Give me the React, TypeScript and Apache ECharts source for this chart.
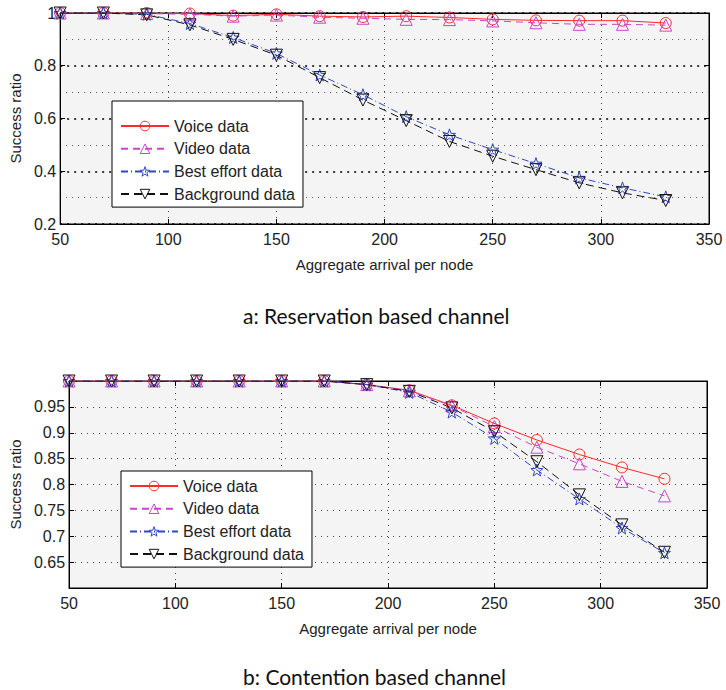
import React, { useEffect, useRef } from "react";
import * as echarts from "echarts";

const arrivals = [50, 70, 90, 110, 130, 150, 170, 190, 210, 230, 250, 270, 290, 310, 330];
const seriesNames = ["Voice data", "Video data", "Best effort data", "Background data"];

// a: Reservation based channel
const resVoice = [1, 1, 1, 0.998, 0.99, 0.995, 0.988, 0.985, 0.988, 0.983, 0.976, 0.972, 0.971, 0.971, 0.962];
const resVideo = [1, 1, 0.998, 0.995, 0.988, 0.992, 0.984, 0.98, 0.976, 0.975, 0.97, 0.963, 0.957, 0.957, 0.954];
const resBest = [1, 1, 0.995, 0.96, 0.907, 0.847, 0.765, 0.69, 0.607, 0.538, 0.482, 0.429, 0.375, 0.337, 0.303];
const resBack = [1, 1, 0.993, 0.955, 0.9, 0.84, 0.755, 0.67, 0.592, 0.513, 0.457, 0.406, 0.356, 0.318, 0.289];

// b: Contention based channel
const conVoice = [1, 1, 1, 1, 1, 1, 1, 0.993, 0.982, 0.953, 0.918, 0.886, 0.858, 0.833, 0.811];
const conVideo = [1, 1, 1, 1, 1, 1, 1, 0.993, 0.981, 0.952, 0.912, 0.872, 0.84, 0.806, 0.778];
const conBest = [1, 1, 1, 1, 1, 1, 1, 0.993, 0.978, 0.94, 0.889, 0.828, 0.772, 0.716, 0.668];
const conBack = [1, 1, 1, 1, 1, 1, 1, 0.993, 0.98, 0.948, 0.902, 0.844, 0.78, 0.722, 0.669];

const xTicks = { min: 50, max: 350, interval: 50 };
const captionA = "a: Reservation based channel";
const captionB = "b: Contention based channel";
const xTitle = "Aggregate arrival per node";
const yTitle = "Success ratio";

const STAR =
  "path://M0,-10 L2.35,-3.24 L9.51,-3.09 L3.8,1.24 L5.88,8.09 L0,4 L-5.88,8.09 L-3.8,1.24 L-9.51,-3.09 L-2.35,-3.24 Z";

const styles = [
  { color: "#ff2a2a", symbol: "circle", rotate: 0, type: "solid" as any, size: 11 },
  { color: "#cc44cc", symbol: "triangle", rotate: 0, type: [7, 5], size: 12 },
  { color: "#3048c0", symbol: STAR, rotate: 0, type: [7, 3, 1, 3], size: 12 },
  { color: "#111111", symbol: "triangle", rotate: 180, type: [8, 5], size: 12 },
];

const FONT = "Liberation Sans, Arial, sans-serif";

export default function App() {
  const ref = useRef<HTMLDivElement>(null);
  useEffect(() => {
    if (!ref.current) return;
    const chart = echarts.init(ref.current, undefined, { renderer: "svg" });

    const grids = [
      { left: 57, top: 13, width: 652, height: 211 },
      { left: 68, top: 381, width: 639, height: 207 },
    ];

    const mkX = (gi: number) => [
      {
        type: "value",
        gridIndex: gi,
        ...xTicks,
        name: xTitle,
        nameLocation: "middle",
        nameGap: 33,
        nameTextStyle: { fontFamily: FONT, fontSize: 15, color: "#222" },
        axisLine: { show: true, lineStyle: { color: "#000", width: 1 } },
        axisTick: { show: true, inside: true, length: 5, lineStyle: { color: "#000" } },
        axisLabel: { fontFamily: FONT, fontSize: 16, color: "#222", margin: 7 },
        splitLine: { show: true, lineStyle: { color: "#444", type: [1, 5], width: 1 } },
      },
      {
        type: "value",
        gridIndex: gi,
        position: "top",
        ...xTicks,
        axisLine: { show: true, lineStyle: { color: "#000", width: 1 } },
        axisTick: { show: true, inside: true, length: 5, lineStyle: { color: "#000" } },
        axisLabel: { show: false },
        splitLine: { show: false },
      },
    ];

    const yA = [
      {
        type: "value",
        gridIndex: 0,
        min: 0.2,
        max: 1,
        interval: 0.2,
        name: yTitle,
        nameLocation: "middle",
        nameGap: 37,
        nameRotate: 90,
        nameTextStyle: { fontFamily: FONT, fontSize: 15, color: "#222" },
        axisLine: { show: true, lineStyle: { color: "#000" } },
        axisTick: { show: true, inside: true, length: 5, lineStyle: { color: "#000" } },
        axisLabel: { fontFamily: FONT, fontSize: 16, color: "#222", margin: 4, formatter: (v: number) => String(+v.toFixed(2)) },
        splitLine: { show: true, lineStyle: { color: "#000", type: [2, 5], width: 1.6 } },
        minorTick: { show: false, splitNumber: 2 },
        minorSplitLine: { show: true, lineStyle: { color: "#555", type: [1, 5], width: 1 } },
      },
      {
        type: "value",
        gridIndex: 0,
        position: "right",
        min: 0.2,
        max: 1,
        interval: 0.2,
        axisLine: { show: true, lineStyle: { color: "#000" } },
        axisTick: { show: true, inside: true, length: 5, lineStyle: { color: "#000" } },
        axisLabel: { show: false },
        splitLine: { show: false },
      },
    ];

    const yB = [
      {
        type: "value",
        gridIndex: 1,
        min: 0.6,
        max: 1,
        interval: 0.05,
        name: yTitle,
        nameLocation: "middle",
        nameGap: 46,
        nameRotate: 90,
        nameTextStyle: { fontFamily: FONT, fontSize: 15, color: "#222" },
        axisLine: { show: true, lineStyle: { color: "#000" } },
        axisTick: { show: true, inside: true, length: 5, lineStyle: { color: "#000" } },
        axisLabel: {
          fontFamily: FONT,
          fontSize: 16,
          color: "#222",
          margin: 4,
          showMinLabel: false,
          showMaxLabel: false,
          formatter: (v: number) => String(+v.toFixed(2)),
        },
        splitLine: { show: true, lineStyle: { color: "#444", type: [1, 5], width: 1 } },
      },
      {
        type: "value",
        gridIndex: 1,
        position: "right",
        min: 0.6,
        max: 1,
        interval: 0.05,
        axisLine: { show: true, lineStyle: { color: "#000" } },
        axisTick: { show: true, inside: true, length: 5, lineStyle: { color: "#000" } },
        axisLabel: { show: false },
        splitLine: { show: false },
      },
    ];

    const mkSeries = (data: number[][], gi: number) =>
      data.map((vals, i) => {
        const s = styles[i];
        return {
          type: "line",
          name: seriesNames[i],
          xAxisIndex: gi * 2,
          yAxisIndex: gi * 2,
          data: arrivals.map((x, k) => [x, vals[k]]),
          symbol: s.symbol,
          symbolSize: s.size,
          symbolRotate: s.rotate,
          showSymbol: true,
          lineStyle: { color: s.color, width: 1, type: s.type },
          itemStyle: { color: "rgba(0,0,0,0)", borderColor: s.color, borderWidth: 1 },
          emphasis: { disabled: true },
          z: 3,
        };
      });

    const legendData = seriesNames.map((name, i) => ({
      name,
      itemStyle: { color: "rgba(0,0,0,0)", borderColor: styles[i].color, borderWidth: 1 },
    }));

    const legendBase = {
      orient: "vertical",
      data: legendData,
      backgroundColor: "#fff",
      borderColor: "#000",
      borderWidth: 1,
      borderRadius: 0,
      itemGap: 6.7,
      itemWidth: 48,
      itemHeight: 12,
      textStyle: { fontFamily: FONT, fontSize: 16, color: "#222" },
      selectedMode: false,
    };

    chart.setOption({
      animation: false,
      backgroundColor: "#fff",
      grid: grids.map((g) => ({
        ...g,
        show: true,
        backgroundColor: "#f4f4f4",
        borderColor: "#000",
        borderWidth: 1,
        containLabel: false,
      })),
      xAxis: [...mkX(0), ...mkX(1)],
      yAxis: [...yA, ...yB],
      legend: [
        { ...legendBase, left: 112, top: 101, padding: [17, 8, 5, 8] },
        { ...legendBase, left: 121, top: 471, padding: [7, 8, 5, 8] },
      ],
      series: [
        ...mkSeries([resVoice, resVideo, resBest, resBack], 0),
        ...mkSeries([conVoice, conVideo, conBest, conBack], 1),
      ],
      graphic: [
        {
          type: "text",
          left: 243,
          top: 305,
          style: { text: captionA, fontFamily: "Lato, sans-serif", fontSize: 21, fill: "#111" },
        },
        {
          type: "text",
          left: 243,
          top: 666,
          style: { text: captionB, fontFamily: "Lato, sans-serif", fontSize: 21, fill: "#111" },
        },
      ],
    });
    return () => chart.dispose();
  }, []);
  return <div ref={ref} style={{ position: "absolute", left: 0, top: 0, width: 726, height: 690 }} />;
}
